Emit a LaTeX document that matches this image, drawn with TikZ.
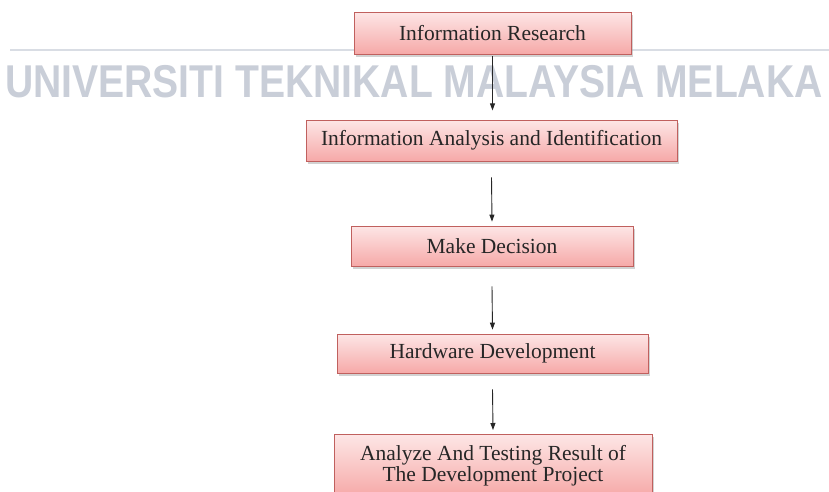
\documentclass[tikz,border=0pt]{standalone}
\usepackage{fontspec}
\setmainfont{Liberation Serif}
\newfontfamily\wmfont{Liberation Sans}
\usetikzlibrary{arrows.meta,shadows}
\definecolor{boxedge}{HTML}{C0605E}
\definecolor{boxtop}{HTML}{FDE6E6}
\definecolor{boxbottom}{HTML}{F6A9A8}
\definecolor{wmgrey}{HTML}{C9CED8}
\tikzset{
  flowbox/.style={draw=boxedge, line width=0.8pt, top color=boxtop, bottom color=boxbottom,
    drop shadow={shadow xshift=1.5pt, shadow yshift=-2.5pt, fill=black!35, opacity=0.5},
    inner sep=0pt, align=center, font=\fontsize{21.5}{21}\selectfont, text=black!85},
  flowarrow/.style={-{Triangle[length=7pt,width=5pt]}, line width=0.9pt, black!85}
}
\begin{document}
\begin{tikzpicture}[x=1pt,y=-1pt]
\useasboundingbox (0,0) rectangle (829,491);
\fill[white] (0,0) rectangle (829,491);
% watermark band
\draw[wmgrey!70, line width=1.5pt] (10,50) -- (829,50);
\node[anchor=west, inner sep=0pt, text=wmgrey, font=\wmfont\bfseries\fontsize{46}{46}\selectfont, xscale=0.85] (wm) at (5,82) {UNIVERSITI TEKNIKAL MALAYSIA MELAKA};
% process steps
\node[flowbox, minimum width=277pt, minimum height=42pt] (s1) at (492.5,33) {Information Research};
\node[flowbox, minimum width=371pt, minimum height=41pt] (s2) at (491.5,140.5) {Information Analysis and Identification};
\node[flowbox, minimum width=282pt, minimum height=40pt] (s3) at (492,246) {Make Decision};
\node[flowbox, minimum width=311pt, minimum height=39pt] (s4) at (492.5,353.5) {Hardware Development};
\node[flowbox, minimum width=318pt, minimum height=62pt, anchor=north] (s5) at (493,434) {Analyze And Testing Result of\\The Development Project};
% connectors
\draw[flowarrow] ([yshift=-2pt]s1.south) -- ([yshift=-56pt]s1.south);
\draw[flowarrow] ([yshift=-16pt]s2.south) -- ([yshift=4pt]s3.north);
\draw[flowarrow] ([yshift=-20pt]s3.south) -- ([yshift=4pt]s4.north);
\draw[flowarrow] ([yshift=-16pt]s4.south) -- ([yshift=4pt]s5.north);
\end{tikzpicture}
\end{document}
